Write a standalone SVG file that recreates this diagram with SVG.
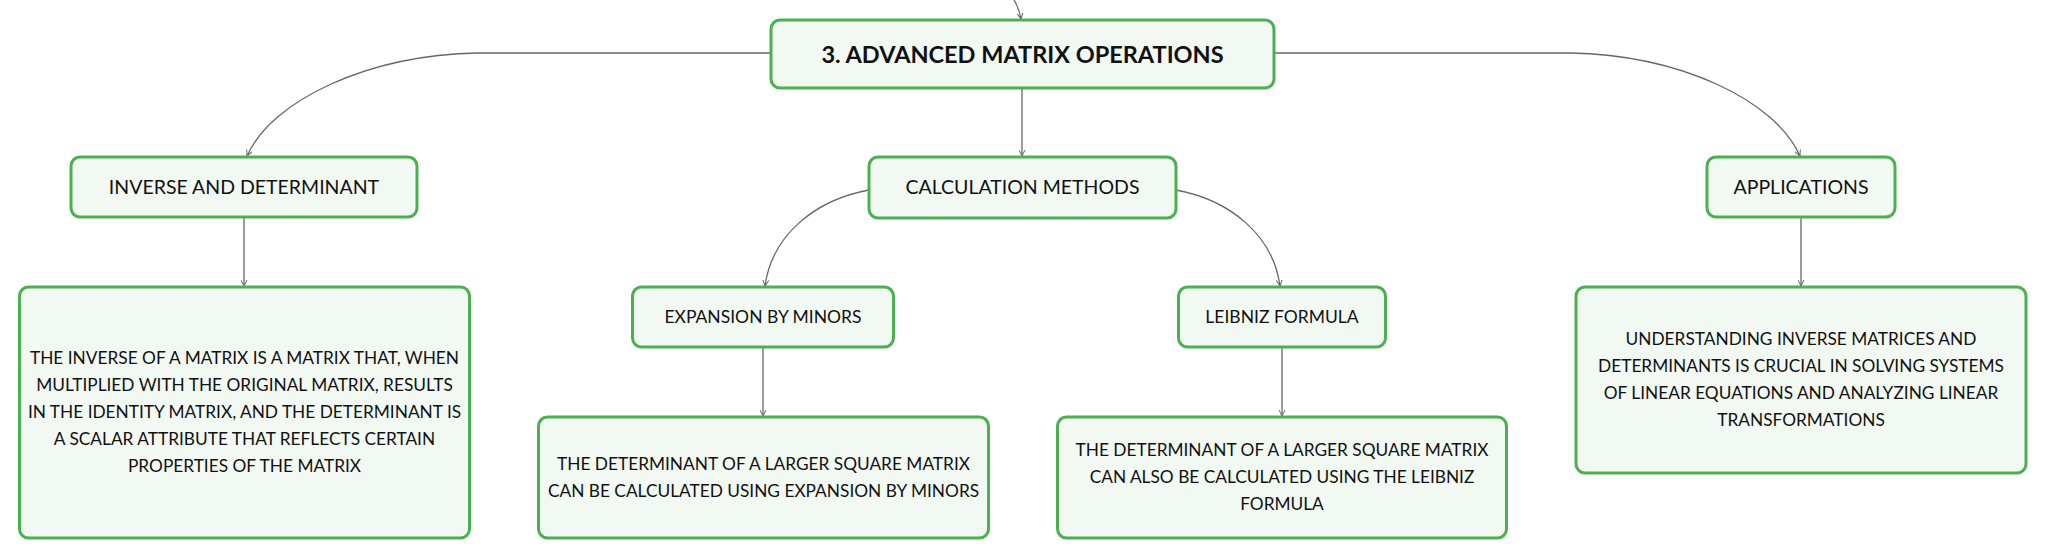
<svg xmlns="http://www.w3.org/2000/svg" width="2046" height="559" viewBox="0 0 2046 559">
<defs>
<marker id="arr" markerUnits="userSpaceOnUse" markerWidth="7" markerHeight="7" refX="6" refY="3.5" orient="auto">
<path d="M0,0.5 L6,3.5 L0,6.5" fill="none" stroke="#666" stroke-width="1"/>
</marker>
</defs>
<style>
.box{fill:#f2f9f3;stroke:#4caf50;stroke-width:3}
.t{font-family:Lato,"Open Sans","Liberation Sans",sans-serif;fill:#111;text-anchor:middle}
.root{font-size:23.5px;font-weight:bold}
.l1{font-size:19.5px}
.l2{font-size:17.5px}
.d{font-size:17.3px}
.c{fill:none;stroke:#666;stroke-width:1.3;marker-end:url(#arr)}
</style>
<rect width="2046" height="559" fill="#fff"/>
<g id="connectors">
<path class="c" d="M1014,0 Q1019,8 1021,19"/>
<path class="c" d="M771,53 L478,53 C368,55 272,100 247,156"/>
<path class="c" d="M1274,53 L1570,53 C1680,55 1775,100 1800,156"/>
<path class="c" d="M1022,88 L1022,156"/>
<path class="c" d="M869,190 C815,200 772,235 765,286"/>
<path class="c" d="M1176,190 C1230,200 1273,235 1280,286"/>
<path class="c" d="M244,218 L244,286"/>
<path class="c" d="M763,348 L763,416"/>
<path class="c" d="M1282,348 L1282,416"/>
<path class="c" d="M1801,218 L1801,286"/>
</g>
<g id="root">
<rect class="box" x="771" y="20" width="503" height="68" rx="9"/>
<text class="t root" x="1022.5" y="62.5">3. ADVANCED MATRIX OPERATIONS</text>
</g>
<g id="inverse">
<rect class="box" x="71" y="157" width="346" height="60" rx="9"/>
<text class="t l1" x="244" y="194">INVERSE AND DETERMINANT</text>
</g>
<g id="calc">
<rect class="box" x="869" y="157" width="307" height="61" rx="9"/>
<text class="t l1" x="1022.5" y="194">CALCULATION METHODS</text>
</g>
<g id="applications">
<rect class="box" x="1707" y="157" width="188" height="60" rx="9"/>
<text class="t l1" x="1801" y="194">APPLICATIONS</text>
</g>
<g id="inverse-detail">
<rect class="box" x="19.5" y="287" width="450" height="251" rx="9"/>
<text class="t d" x="244.5" y="364">THE INVERSE OF A MATRIX IS A MATRIX THAT, WHEN</text>
<text class="t d" x="244.5" y="391">MULTIPLIED WITH THE ORIGINAL MATRIX, RESULTS</text>
<text class="t d" x="244.5" y="418">IN THE IDENTITY MATRIX, AND THE DETERMINANT IS</text>
<text class="t d" x="244.5" y="445">A SCALAR ATTRIBUTE THAT REFLECTS CERTAIN</text>
<text class="t d" x="244.5" y="472">PROPERTIES OF THE MATRIX</text>
</g>
<g id="expansion">
<rect class="box" x="632.5" y="287" width="261" height="60" rx="9"/>
<text class="t l2" x="763" y="323">EXPANSION BY MINORS</text>
</g>
<g id="leibniz">
<rect class="box" x="1178.5" y="287" width="207" height="60" rx="9"/>
<text class="t l2" x="1282" y="323">LEIBNIZ FORMULA</text>
</g>
<g id="expansion-detail">
<rect class="box" x="538.5" y="417" width="450" height="121" rx="9"/>
<text class="t d" x="763.5" y="470">THE DETERMINANT OF A LARGER SQUARE MATRIX</text>
<text class="t d" x="763.5" y="497">CAN BE CALCULATED USING EXPANSION BY MINORS</text>
</g>
<g id="leibniz-detail">
<rect class="box" x="1057.5" y="417" width="449" height="121" rx="9"/>
<text class="t d" x="1282" y="456">THE DETERMINANT OF A LARGER SQUARE MATRIX</text>
<text class="t d" x="1282" y="483">CAN ALSO BE CALCULATED USING THE LEIBNIZ</text>
<text class="t d" x="1282" y="510">FORMULA</text>
</g>
<g id="applications-detail">
<rect class="box" x="1576" y="287" width="450" height="186" rx="9"/>
<text class="t d" x="1801" y="345">UNDERSTANDING INVERSE MATRICES AND</text>
<text class="t d" x="1801" y="372">DETERMINANTS IS CRUCIAL IN SOLVING SYSTEMS</text>
<text class="t d" x="1801" y="399">OF LINEAR EQUATIONS AND ANALYZING LINEAR</text>
<text class="t d" x="1801" y="426">TRANSFORMATIONS</text>
</g>
</svg>
